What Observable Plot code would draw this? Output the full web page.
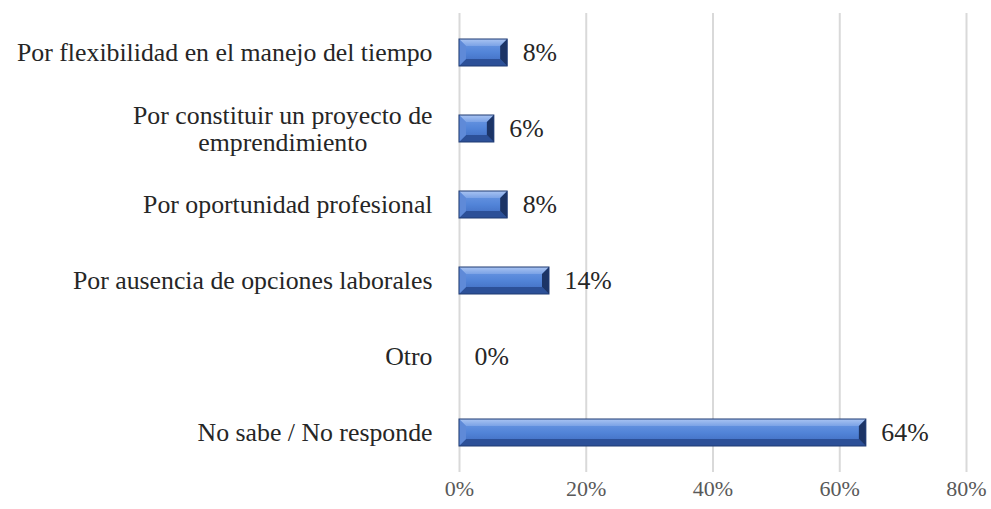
<!DOCTYPE html>
<html>
<head>
<meta charset="utf-8">
<script src="https://cdn.jsdelivr.net/npm/d3@7"></script>
<script src="https://cdn.jsdelivr.net/npm/@observablehq/plot@0.6"></script>
<style>
  html, body { margin: 0; padding: 0; background: #fff; }
  #chart { width: 991px; height: 509px; }
</style>
</head>
<body>
<div id="chart"></div>
<script>
const categories = [
  "Por flexibilidad en el manejo del tiempo",
  "Por constituir un proyecto de\nemprendimiento",
  "Por oportunidad profesional",
  "Por ausencia de opciones laborales",
  "Otro",
  "No sabe / No responde"
];
const values = [7.6, 5.5, 7.6, 14.2, 0, 64.2];
const xTicks = [0, 20, 40, 60, 80];

const data = categories.map((c, i) => ({cat: c, value: values[i]}));
const FONT = "'Liberation Serif', 'Times New Roman', serif";

const chart = Plot.plot({
  width: 991,
  height: 509,
  marginLeft: 459,
  marginRight: 25,
  marginTop: 13,
  marginBottom: 37,
  style: {fontFamily: FONT, fontSize: "25.8px", background: "#fff"},
  x: {domain: [0, 80], ticks: xTicks, label: null},
  y: {domain: categories, paddingInner: 0.65, paddingOuter: 0.325, label: null},
  marks: [
    Plot.gridX(xTicks, {stroke: "#d9d9d9", strokeOpacity: 1, strokeWidth: 2}),
    Plot.axisX(xTicks, {tickSize: 0, tickPadding: 8, tickFormat: d => d + "%", fill: "#595959", fontSize: 22}),
    Plot.axisY({tickSize: 0, tickPadding: 27, fill: "#262626", fontSize: 25.8, lineHeight: 1.02}),
    Plot.barX(data, {x: "value", y: "cat", fill: "#4a78cc", className: "bevelbar"}),
    Plot.text(data, {x: "value", y: "cat", text: d => d.value.toFixed(0) + "%", textAnchor: "start", dx: 15, fill: "#262626", fontSize: 25.8})
  ]
});

document.getElementById("chart").appendChild(chart);

// Center-align multi-line y-axis label (as in the original)
chart.querySelectorAll("text").forEach(t => {
  const spans = t.querySelectorAll("tspan");
  if (spans.length > 1) {
    const bb = t.getBBox();
    t.setAttribute("text-anchor", "middle");
    const tr = t.getAttribute("transform") || "";
    t.setAttribute("transform", tr + ` translate(${-bb.width / 2},0)`);
  }
});

// Bevel effect on bars, derived from the rects Plot drew
const ns = "http://www.w3.org/2000/svg";
const defs = document.createElementNS(ns, "defs");
defs.innerHTML = `
  <linearGradient id="face" x1="0" y1="0" x2="0" y2="1">
    <stop offset="0" stop-color="#6f9be5"/>
    <stop offset="0.5" stop-color="#5284d8"/>
    <stop offset="1" stop-color="#3c68bc"/>
  </linearGradient>
  <linearGradient id="topb" x1="0" y1="0" x2="0" y2="1">
    <stop offset="0" stop-color="#a9c4f2"/>
    <stop offset="1" stop-color="#7ba2e6"/>
  </linearGradient>`;
chart.insertBefore(defs, chart.firstChild);
chart.querySelectorAll(".bevelbar rect").forEach(r => {
  const x = +r.getAttribute("x"), y = +r.getAttribute("y");
  const w = +r.getAttribute("width"), h = +r.getAttribute("height");
  if (!(w > 0)) return;
  const b = Math.min(7, w / 2, h / 2);
  const g = r.parentNode;
  r.setAttribute("fill", "url(#face)");
  const poly = (pts, color) => {
    const p = document.createElementNS(ns, "polygon");
    p.setAttribute("points", pts.map(q => q.join(",")).join(" "));
    p.setAttribute("fill", color);
    g.appendChild(p);
  };
  poly([[x, y], [x + w, y], [x + w - b, y + b], [x + b, y + b]], "url(#topb)");
  poly([[x, y + h], [x + w, y + h], [x + w - b, y + h - b], [x + b, y + h - b]], "#2c5098");
  poly([[x, y], [x + b, y + b], [x + b, y + h - b], [x, y + h]], "#5f8ad8");
  poly([[x + w, y], [x + w - b, y + b], [x + w - b, y + h - b], [x + w, y + h]], "#1c3466");
  const o = document.createElementNS(ns, "rect");
  o.setAttribute("x", x); o.setAttribute("y", y);
  o.setAttribute("width", w); o.setAttribute("height", h);
  o.setAttribute("fill", "none"); o.setAttribute("stroke", "#1f3a73"); o.setAttribute("stroke-width", "1");
  g.appendChild(o);
});
</script>
</body>
</html>
